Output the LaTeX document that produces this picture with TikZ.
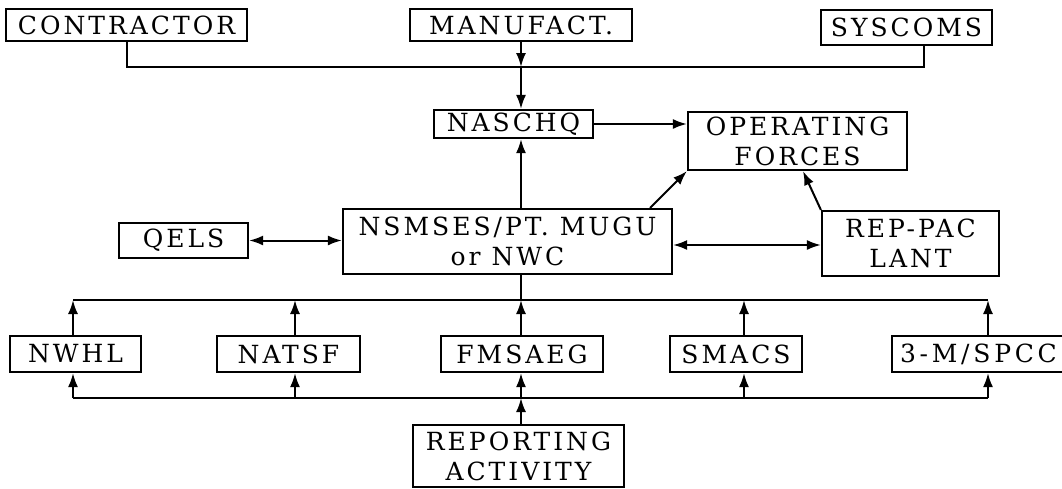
\documentclass[tikz,border=0pt]{standalone}
\usepackage{fontspec}
\setmainfont{DejaVu Serif}[LetterSpace=12]
\usetikzlibrary{arrows.meta}
\begin{document}
\begin{tikzpicture}[x=1pt,y=-1pt,
  box/.style={draw, line width=2.2pt, inner sep=0pt, align=center, font=\fontsize{25}{30}\selectfont},
  ln/.style={line width=2pt},
  arr/.style={ln, -{Latex[length=14pt,width=10pt]}},
  darr/.style={ln, {Latex[length=14pt,width=10pt]}-{Latex[length=14pt,width=10pt]}}]
\useasboundingbox (0,0) rectangle (1062,488);
% top row
\node[box, minimum width=241pt, minimum height=32pt] (contr) at (126.5,25) {CONTRACTOR};
\node[box, minimum width=222pt, minimum height=32pt] (manuf) at (521,25) {MANUFACT.};
\node[box, minimum width=171pt, minimum height=35pt] (sys) at (906.5,27.5) {SYSCOMS};
% middle
\node[box, minimum width=159pt, minimum height=28pt] (naschq) at (513.5,124) {NASCHQ};
\node[box, minimum width=219pt, minimum height=58pt] (opf) at (797.5,141) {OPERATING\\FORCES};
\node[box, minimum width=129pt, minimum height=35pt] (qels) at (183.5,240.5) {QELS};
\node[box, minimum width=329pt, minimum height=65pt] (nsmses) at (507.5,241.5) {NSMSES/PT. MUGU\\or NWC};
\node[box, minimum width=177pt, minimum height=65pt] (reppac) at (910.5,243.5) {REP-PAC\\LANT};
% lower row
\node[box, minimum width=131pt, minimum height=36pt] (nwhl) at (75.5,354) {NWHL};
\node[box, minimum width=143pt, minimum height=36pt] (natsf) at (288.5,354) {NATSF};
\node[box, minimum width=162pt, minimum height=36pt] (fmsaeg) at (522,354) {FMSAEG};
\node[box, minimum width=132pt, minimum height=36pt] (smacs) at (736,354) {SMACS};
\node[box, minimum width=188pt, minimum height=36pt, text width=172pt, align=left] (spcc) at (986,354) {\addfontfeature{LetterSpace=15}3-M/SPCC};
\node[box, minimum width=211pt, minimum height=62pt] (rep) at (518.5,456) {REPORTING\\ACTIVITY};
% top bus
\coordinate (tb) at (521,67);
\draw[ln] (contr.south) |- (tb) -| ([xshift=17.5pt]sys.south);
\draw[arr] (manuf.south -| tb) -- (tb);
\draw[arr] (tb) -- (tb |- naschq.north);
\draw[arr] (nsmses.north -| tb) -- (naschq.south -| tb);
\draw[arr] (naschq.east) -- (opf.west |- naschq.east);
\draw[arr] ([xshift=142.5pt]nsmses.north) -- (opf.south west);
\draw[arr] (reppac.north west) -- ([xshift=5.5pt]opf.south);
\draw[darr] (qels.east) -- (qels.east -| nsmses.west);
\draw[darr] ([yshift=-3.5pt]nsmses.east) -- ([yshift=-3.5pt]nsmses.east -| reppac.west);
% upper bus
\coordinate (u1) at (73,300);
\coordinate (u2) at (295,300);
\coordinate (u3) at (521,300);
\coordinate (u4) at (744,300);
\coordinate (u5) at (988,300);
\draw[ln] (u1) -- (u5);
\draw[ln] (u3) -- (nsmses.south -| u3);
\draw[arr] (nwhl.north -| u1) -- (u1);
\draw[arr] (natsf.north -| u2) -- (u2);
\draw[arr] (fmsaeg.north -| u3) -- (u3);
\draw[arr] (smacs.north -| u4) -- (u4);
\draw[arr] (spcc.north -| u5) -- (u5);
% lower bus
\coordinate (l1) at (73,398);
\coordinate (l2) at (295,398);
\coordinate (l3) at (521,398);
\coordinate (l4) at (744,398);
\coordinate (l5) at (988,398);
\draw[ln] (l1) -- (l5);
\draw[arr] (l1) -- (l1 |- nwhl.south);
\draw[arr] (l2) -- (l2 |- natsf.south);
\draw[arr] (l3) -- (l3 |- fmsaeg.south);
\draw[arr] (l4) -- (l4 |- smacs.south);
\draw[arr] (l5) -- (l5 |- spcc.south);
\draw[arr] (rep.north -| l3) -- (l3);
\end{tikzpicture}
\end{document}
